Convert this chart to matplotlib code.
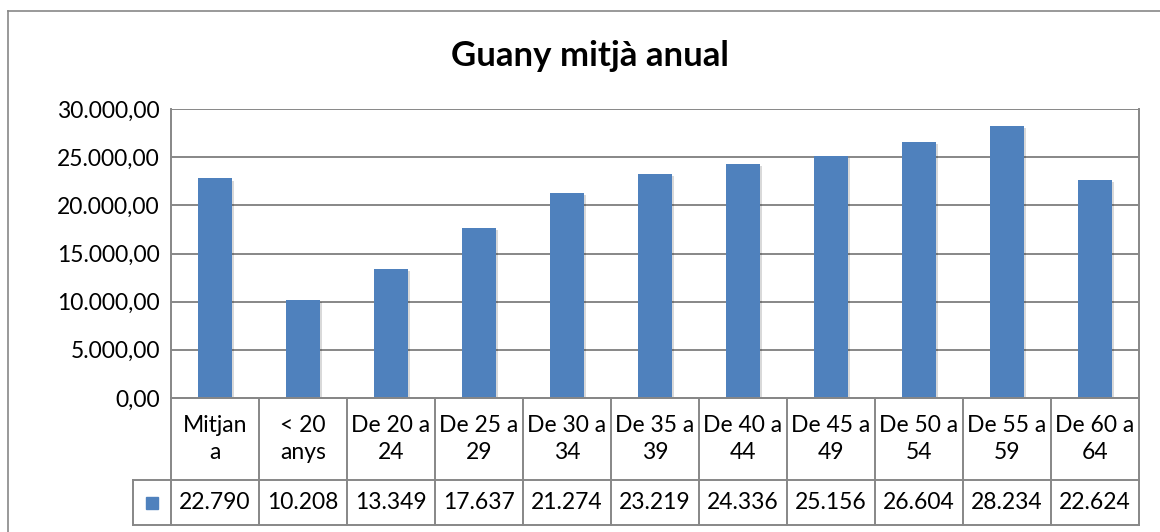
import matplotlib.pyplot as plt
import matplotlib.patheffects as pe
from matplotlib.lines import Line2D
from matplotlib.patches import Rectangle

plt.rcParams['font.family'] = ['Lato', 'DejaVu Sans']

title = "Guany mitjà anual"
categories = ["Mitjan\na", "< 20\nanys", "De 20 a\n24", "De 25 a\n29", "De 30 a\n34",
              "De 35 a\n39", "De 40 a\n44", "De 45 a\n49", "De 50 a\n54", "De 55 a\n59",
              "De 60 a\n64"]
values = [22790, 10208, 13349, 17637, 21274, 23219, 24336, 25156, 26604, 28234, 22624]
yticks = [0, 5000, 10000, 15000, 20000, 25000, 30000]

W, H = 1160, 532
bar_color = "#4F81BD"
grid_color = "#878787"


def fmt_es(v, dec=2):
    s = f"{v:,.{dec}f}"
    return s.replace(",", "X").replace(".", ",").replace("X", ".")


def px(x0, y0, x1, y1):
    # pixel box (top-left origin) -> figure fraction rect
    return [x0 / W, 1 - y1 / H, (x1 - x0) / W, (y1 - y0) / H]


fig = plt.figure(figsize=(W / 100, H / 100), dpi=100)

# outer chart border
fig.add_artist(Line2D([8 / W, 8 / W], [0, 1 - 11 / H], transform=fig.transFigure,
                      color=grid_color, lw=1.2))
fig.add_artist(Line2D([8 / W, 1], [1 - 11 / H, 1 - 11 / H], transform=fig.transFigure,
                      color=grid_color, lw=1.2))

fig.text(590 / W, 1 - 56 / H, title, ha="center", va="center",
         fontsize=25, fontweight="bold")

ax = fig.add_axes(px(171, 109, 1139, 398))
n = len(categories)
bars = ax.bar(range(n), values, width=0.39, color=bar_color, zorder=3)
for b in bars:
    b.set_path_effects([pe.SimplePatchShadow(offset=(1.5, -1.5), shadow_rgbFace="#000000",
                                             alpha=0.15), pe.Normal()])
ax.set_xlim(-0.5, n - 0.5)
ax.set_ylim(0, 30000)
ax.set_yticks(yticks)
ax.set_yticklabels([fmt_es(t) for t in yticks], fontsize=16.5)
ax.yaxis.grid(True, color=grid_color, lw=1.4)
ax.set_axisbelow(True)
ax.set_xticks([])
ax.tick_params(axis="y", length=0, pad=8)
for s in ax.spines.values():
    s.set_color(grid_color)
    s.set_linewidth(1.4)
ax.spines["top"].set_visible(False)

# data table under the axis
leg_w = (171 - 133) / ((1139 - 171) / n)
tab = fig.add_axes(px(133, 398, 1139, 525))
tab.set_xlim(-0.5 - leg_w, n - 0.5)
tab.set_ylim(0, 127)
tab.axis("off")
row_split = 127 - (480 - 398)
lk = dict(color=grid_color, lw=1.4, clip_on=False)
tab.plot([-0.5, n - 0.5], [127, 127], **lk)
tab.plot([-0.5 - leg_w, n - 0.5], [row_split, row_split], **lk)
tab.plot([-0.5 - leg_w, n - 0.5], [0, 0], **lk)
tab.plot([-0.5 - leg_w, -0.5 - leg_w], [0, row_split], **lk)
for i in range(n + 1):
    tab.plot([i - 0.5, i - 0.5], [0, 127], **lk)
for i, (c, v) in enumerate(zip(categories, values)):
    tab.text(i, (127 + row_split) / 2, c, ha="center", va="center", fontsize=16.5,
             linespacing=1.35)
    tab.text(i, row_split / 2, fmt_es(v, 0), ha="center", va="center", fontsize=16.5)
sq = 0.14
tab.add_patch(Rectangle((-0.5 - leg_w / 2 - sq / 2, row_split / 2 - 6), sq, 12,
                        color=bar_color, clip_on=False))

fig.savefig("out.png", dpi=100)
